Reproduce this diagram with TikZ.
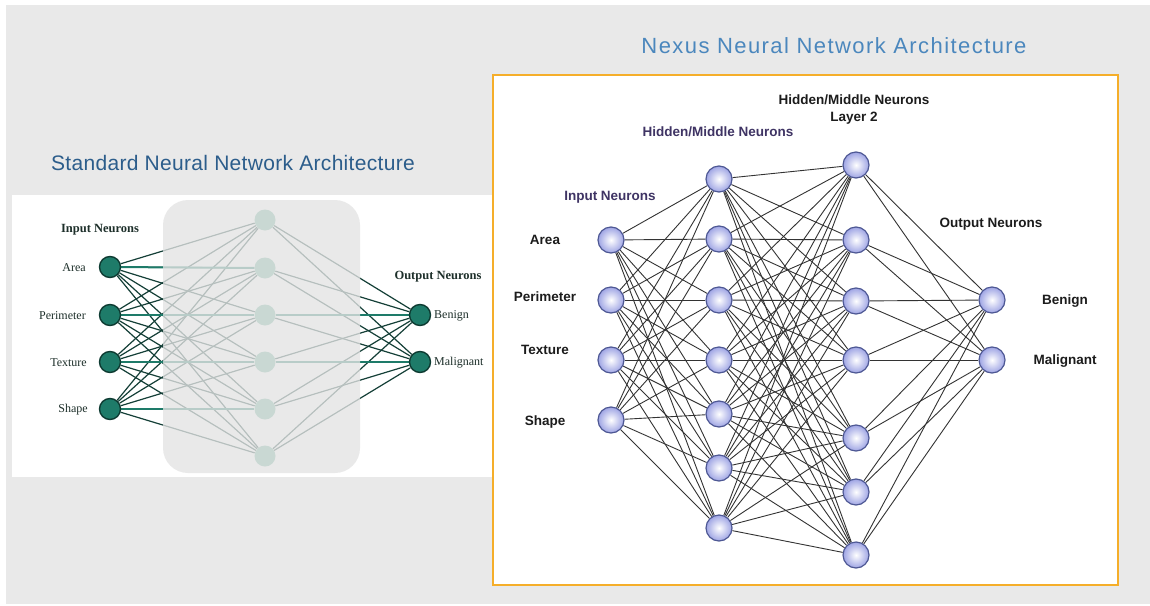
\documentclass[tikz,border=0pt]{standalone}
\usepackage{fontspec}
\setmainfont{Liberation Sans}
\newfontfamily\timesf{Liberation Serif}
\newfontfamily\ltitlef[LetterSpace=1.5]{Liberation Sans}
\newfontfamily\rtitlef[LetterSpace=6.5]{Liberation Sans}
\definecolor{pagegray}{HTML}{E9E9E9}
\definecolor{orangeb}{HTML}{F5AE2A}
\definecolor{veilgray}{HTML}{E4E4E4}
\definecolor{tealfill}{HTML}{1E7B69}
\definecolor{tealdark}{HTML}{0E3B32}
\definecolor{tealline}{HTML}{143F37}
\definecolor{hidfill}{HTML}{C9D8D3}
\definecolor{ltext}{HTML}{1D2F2A}
\definecolor{ltitle}{HTML}{2C5D8B}
\definecolor{rtitle}{HTML}{4B87BD}
\definecolor{lav}{HTML}{9EA4E4}
\definecolor{lavdraw}{HTML}{4E5894}
\definecolor{redge}{HTML}{333333}
\definecolor{purp}{HTML}{3F3464}
\definecolor{rtext}{HTML}{1C1C1C}
\pgfdeclarelayer{bg}
\pgfdeclarelayer{edges}
\pgfdeclarelayer{veil}
\pgfsetlayers{bg,edges,veil,main}
\begin{document}
\begin{tikzpicture}[x=1pt,y=-1pt,
  lin/.style={circle,minimum size=21pt,inner sep=0pt,fill=tealfill,draw=tealdark,line width=1.4pt},
  lhid/.style={circle,minimum size=21pt,inner sep=0pt,fill=hidfill},
  ledge/.style={draw=tealline,line width=1.2pt},
  lhoriz/.style={draw=tealfill,line width=2pt},
  llab/.style={font=\timesf\fontsize{12}{14}\selectfont,text=ltext,inner sep=0pt},
  llabb/.style={font=\timesf\bfseries\fontsize{12.5}{14}\selectfont,text=ltext,inner sep=0pt},
  rn/.style={circle,minimum size=26pt,inner sep=0pt,draw=lavdraw,line width=1.2pt,inner color=white,outer color=lav},
  redgest/.style={draw=redge,line width=0.9pt},
  rlab/.style={font=\bfseries\fontsize{13.5}{16}\selectfont,text=rtext,inner sep=0pt},
  rlabp/.style={font=\bfseries\fontsize{13.5}{16}\selectfont,text=purp,inner sep=0pt}
]
\useasboundingbox (0,0) rectangle (1150,605);
\begin{pgfonlayer}{bg}
  \fill[white] (0,0) rectangle (1150,605);
  \fill[pagegray] (6,5) rectangle (1150,604);
  \fill[white] (12,195) rectangle (493,477);
  \filldraw[fill=white,draw=orangeb,line width=2pt] (493,75) rectangle (1118,585);
\end{pgfonlayer}

% ---------- titles ----------
\node[text=ltitle,font=\ltitlef\fontsize{21}{24}\selectfont,inner sep=0pt] (ltit) at (233,163) {Standard Neural Network Architecture};
\node[text=rtitle,font=\rtitlef\fontsize{22}{25}\selectfont,inner sep=0pt] (rtit) at (834,46) {Nexus Neural Network Architecture};

% ---------- left network ----------
\foreach \y [count=\i] in {267,315,362,409} \node[lin] (li\i) at (110,\y) {};
\foreach \y [count=\i] in {220,268,315,362,409,456} \node[lhid] (lh\i) at (265,\y) {};
\node[lin] (lo1) at (420,315) {};
\node[lin] (lo2) at (420,362) {};

\begin{pgfonlayer}{edges}
  \foreach \i in {1,...,4} \foreach \j in {1,...,6} \draw[ledge] (li\i) -- (lh\j);
  \foreach \j in {1,...,6} \foreach \k in {1,2} \draw[ledge] (lh\j) -- (lo\k);
  \draw[lhoriz] (li1) -- (lh2);
  \draw[lhoriz] (li2) -- (lh3);
  \draw[lhoriz] (li3) -- (lh4);
  \draw[lhoriz] (li4) -- (lh5);
  \draw[lhoriz] (lh3) -- (lo1);
  \draw[lhoriz] (lh4) -- (lo2);
\end{pgfonlayer}
\begin{pgfonlayer}{veil}
  \fill[veilgray,opacity=0.78,rounded corners=25pt] (163,200) rectangle (360,473);
\end{pgfonlayer}

\node[llabb] (linlab) at (100,230) {Input Neurons};
\node[llab,anchor=east] (la1) at (86,268) {Area};
\node[llab,anchor=east] (la2) at (86,316) {Perimeter};
\node[llab,anchor=east] (la3) at (87,363) {Texture};
\node[llab,anchor=east] (la4) at (88,410) {Shape};
\node[llabb] (loutlab) at (438,277) {Output Neurons};
\node[llab,anchor=west] (lb1) at (434,316) {Benign};
\node[llab,anchor=west] (lb2) at (434,363) {Malignant};

% ---------- right network ----------
\foreach \y [count=\i] in {240,300,360,420} \node[rn] (ri\i) at (611,\y) {};
\foreach \y [count=\i] in {179,239,300,360,414,468,528} \node[rn] (ra\i) at (719,\y) {};
\foreach \y [count=\i] in {165,240,301,360,438,492,555} \node[rn] (rb\i) at (856,\y) {};
\node[rn] (ro1) at (992,300) {};
\node[rn] (ro2) at (992,360) {};

\begin{pgfonlayer}{edges}
  \foreach \i in {1,...,4} \foreach \j in {1,...,7} \draw[redgest] (ri\i) -- (ra\j);
  \foreach \i in {1,...,7} \foreach \j in {1,...,7} \draw[redgest] (ra\i) -- (rb\j);
  \foreach \i in {1,...,7} \foreach \k in {1,2} \draw[redgest] (rb\i) -- (ro\k);
\end{pgfonlayer}

\node[rlab] (rh2a) at (854,100) {Hidden/Middle Neurons};
\node[rlab] (rh2b) at (854,118) {Layer 2};
\node[rlabp] (rh1) at (718,132) {Hidden/Middle Neurons};
\node[rlabp] (rinl) at (610,197) {Input Neurons};
\node[rlab] (routl) at (991,224) {Output Neurons};
\node[rlab] (ra) at (545,240) {Area};
\node[rlab] (rp) at (545,297) {Perimeter};
\node[rlab] (rt) at (545,350) {Texture};
\node[rlab] (rs) at (545,422) {Shape};
\node[rlab] (rbn) at (1065,301) {Benign};
\node[rlab] (rml) at (1065,361) {Malignant};
\end{tikzpicture}
\end{document}
